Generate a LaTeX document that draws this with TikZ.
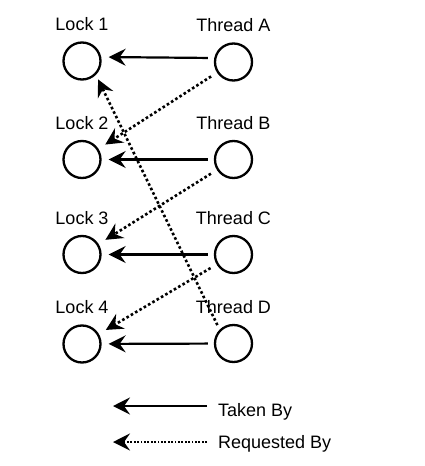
\documentclass[tikz,border=0pt]{standalone}
\usepackage{fontspec}
\setmainfont{Liberation Sans}
\usetikzlibrary{arrows.meta,positioning,shapes.geometric}
\begin{document}
\begin{tikzpicture}[x=1pt,y=-1pt,
	ring/.style={circle, draw, line width=2.3pt, minimum size=37pt, inner sep=0pt},
	lbl/.style={inner sep=0pt, font=\fontsize{18}{21}\selectfont},
	takenarrow/.style={line width=2.2pt, -{Stealth[length=17pt,width=17pt,inset=6pt]}},
	reqarrow/.style={line width=2.6pt, dash pattern=on 2.6pt off 2.4pt, -{Stealth[length=17pt,width=17pt,inset=6pt]}}]
	\useasboundingbox (0,0) rectangle (425,466);

	\node[ring] (l1) at (82,61) {};%Lock 1
	\node[ring] (l2) at (82,159.5) {};%Lock 2
	\node[ring] (l3) at (82,254.5) {};%Lock 3
	\node[ring] (l4) at (82,344) {};%Lock 4
	\node[ring] (tA) at (233.5,62) {};%Thread A
	\node[ring] (tB) at (233.5,159.5) {};%Thread B
	\node[ring] (tC) at (233.5,254.5) {};%Thread C
	\node[ring] (tD) at (233.5,343.5) {};%Thread D

	\node[lbl, above=10pt of l1] (l1txt) {Lock 1};
	\node[lbl, above=10pt of l2] (l2txt) {Lock 2};
	\node[lbl, above=10pt of l3] (l3txt) {Lock 3};
	\node[lbl, above=10pt of l4] (l4txt) {Lock 4};
	\node[lbl, above=10pt of tA] (tAtxt) {Thread A};
	\node[lbl, above=10pt of tB] (tBtxt) {Thread B};
	\node[lbl, above=10pt of tC] (tCtxt) {Thread C};
	\node[lbl, above=10pt of tD] (tDtxt) {Thread D};

	%taken by
	\draw[takenarrow, shorten <=6pt, shorten >=7pt] ([yshift=4pt]tA.west) -- ([yshift=4pt]l1.east);
	\draw[takenarrow, shorten <=6pt, shorten >=7pt] (tB) -- (l2);
	\draw[takenarrow, shorten <=6pt, shorten >=7pt] (tC) -- (l3);
	\draw[takenarrow, shorten <=6pt, shorten >=7pt] (tD) -- (l4);

	%requested by
	\draw[reqarrow, shorten <=7pt, shorten >=8pt] (tA) -- (l2);
	\draw[reqarrow, shorten <=7pt, shorten >=8pt] (tB) -- (l3);
	\draw[reqarrow, shorten <=7pt, shorten >=8pt] (tC) -- (l4);
	\draw[reqarrow, shorten <=5pt, shorten >=5pt] (tD.north west) -- (l1.south east);

	%legend
	\coordinate (takenStart) at (207,406);
	\coordinate (takenTip) at (113,406);
	\coordinate (reqStart) at (207,442);
	\coordinate (reqTip) at (113,442);
	\draw[takenarrow] (takenStart) -- (takenTip);
	\draw[reqarrow, line width=1.8pt, dash pattern=on 1.8pt off 1.6pt] (reqStart) -- (reqTip);
	\node[lbl, anchor=base west] (takenTxt) at (218,416) {Taken By};
	\node[lbl, anchor=base west] (reqTxt) at (218,448) {Requested By};
\end{tikzpicture}
\end{document}
